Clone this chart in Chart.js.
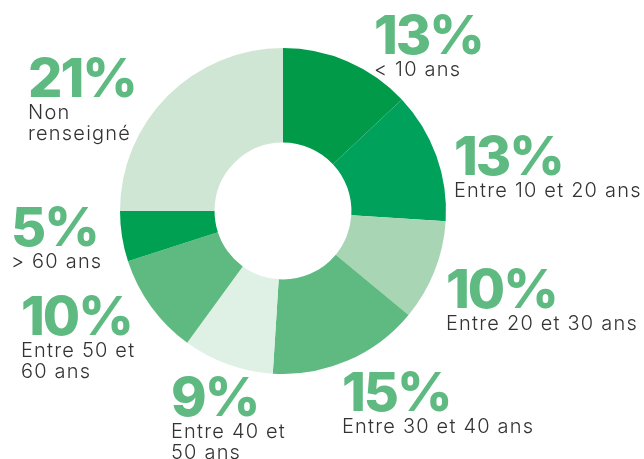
<!DOCTYPE html>
<html>
<head>
<meta charset="utf-8">
<script src="https://cdn.jsdelivr.net/npm/chart.js@4/dist/chart.umd.min.js"></script>
<style>
  html, body { margin: 0; padding: 0; background: #fff; }
  #chart { display: block; }
</style>
</head>
<body>
<canvas id="chart" width="644" height="459"></canvas>
<script>
// age groups, clockwise from 12 o'clock
let categories = ['< 10 ans', 'Entre 10 et 20 ans', 'Entre 20 et 30 ans', 'Entre 30 et 40 ans',
                  'Entre 40 et 50 ans', 'Entre 50 et 60 ans', '> 60 ans', 'Non renseigné'];
// printed percentages
let percent_labels = ['13%', '13%', '10%', '15%', '9%', '10%', '5%', '21%'];
// share of the ring each slice takes in the picture (the last one fills the remaining quarter)
let slice_values = [13, 13, 10, 15, 9, 10, 5, 25];

let slice_colors = ['#009a49', '#00a25b', '#a8d5b3', '#5fba82', '#dff0e4', '#5fba82', '#00a052', '#cfe6d4'];

// where each label block sits, and how its caption wraps
let label_layout = [
    {x: 374, y: 54,  lines: ['< 10 ans']},
    {x: 454, y: 175, lines: ['Entre 10 et 20 ans']},
    {x: 446, y: 308, lines: ['Entre 20 et 30 ans']},
    {x: 342, y: 411, lines: ['Entre 30 et 40 ans']},
    {x: 171, y: 416, lines: ['Entre 40 et', '50 ans']},
    {x: 21,  y: 335, lines: ['Entre 50 et', '60 ans']},
    {x: 11,  y: 246, lines: ['> 60 ans']},
    {x: 28,  y: 97,  lines: ['Non', 'renseigné']},
];

let labels_plugin = {
    id: 'slice_labels',
    afterDraw: function(chart) {
        let ctx = chart.ctx;
        ctx.save();
        ctx.textBaseline = 'alphabetic';
        ctx.textAlign = 'left';
        label_layout.forEach((lab, i) => {
            ctx.fillStyle = '#5fba82';
            ctx.font = '800 54px Inter';
            ctx.letterSpacing = '-2px';
            ctx.fillText(percent_labels[i], lab.x, lab.y);
            ctx.fillStyle = '#333333';
            ctx.font = '300 20px Inter';
            ctx.letterSpacing = '1.2px';
            lab.lines.forEach((line, j) => {
                ctx.fillText(line, lab.x, lab.y + 22 + j * 21);
            });
        });
        ctx.restore();
    }
};

let ctx = document.getElementById('chart').getContext('2d');
let chart = new Chart(ctx, {
    type: 'doughnut',
    data: {
        labels: categories,
        datasets: [{
            data: slice_values,
            backgroundColor: slice_colors,
            borderWidth: 0,
        }],
    },
    options: {
        responsive: false,
        animation: false,
        cutout: '42%',
        layout: {
            padding: {left: 120, right: 198, top: 48, bottom: 85}
        },
        plugins: {
            legend: {display: false},
            tooltip: {enabled: false},
        },
    },
    plugins: [labels_plugin],
});
</script>
</body>
</html>
